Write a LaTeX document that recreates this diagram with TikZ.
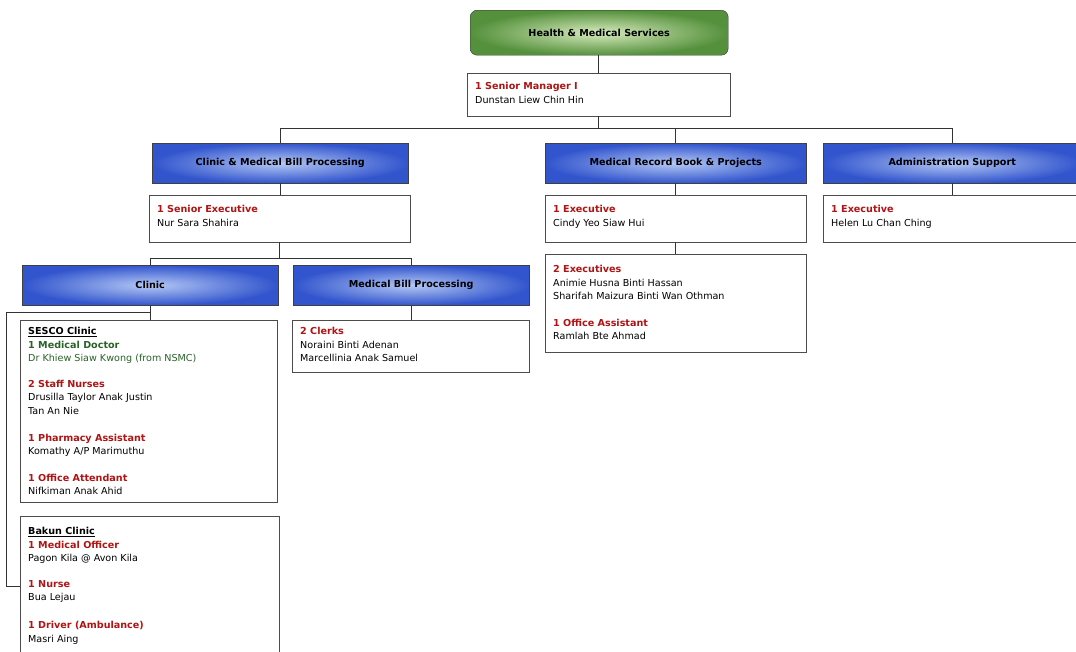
\documentclass[tikz,border=0pt]{standalone}
\usepackage{fontspec}
\setmainfont{DejaVu Sans}
\usetikzlibrary{calc}

\definecolor{postred}{RGB}{176,20,20}
\definecolor{docgreen}{RGB}{40,100,40}
\definecolor{headblue}{RGB}{50,85,205}
\definecolor{headlight}{RGB}{180,200,245}
\definecolor{topgreen}{RGB}{85,145,60}
\definecolor{toplight}{RGB}{215,235,190}

\newcommand{\post}[1]{\textcolor{postred}{\textbf{#1}}}

\tikzset{
  topbox/.style={draw=black!80, rounded corners=7pt, inner color=toplight, outer color=topgreen,
    minimum width=258, minimum height=45, anchor=north west, font=\bfseries\fontsize{9.6}{11}\selectfont},
  headbox/.style={draw=black!75, inner color=headlight, outer color=headblue,
    minimum height=40, anchor=north west, font=\bfseries\fontsize{9.6}{11}\selectfont},
  staffbox/.style={draw=black!70, fill=white, anchor=north west},
  stafftext/.style={anchor=north west, align=left, inner sep=0pt, font=\fontsize{9.6}{13.6}\selectfont},
  link/.style={draw=black!80, line width=0.8pt}
}

\begin{document}
\begin{tikzpicture}[x=1pt, y=-1pt]
        \useasboundingbox (0,0) rectangle (1076,651);
        \fill[white] (0,0) rectangle (1076,651);

        % top
        \node[topbox] (hms) at (470,10) {Health \& Medical Services};
        \node[staffbox, minimum width=263, minimum height=43] (mgr) at (467,73) {};
        \node[stafftext] at ($(mgr.north west)+(8,9)$) {\post{1 Senior Manager I}\\Dunstan Liew Chin Hin};

        % sections
        \node[headbox, minimum width=256] (cmb) at (152,143) {Clinic \& Medical Bill Processing};
        \node[headbox, minimum width=261] (mrb) at (545,143) {Medical Record Book \& Projects};
        \node[headbox, minimum width=258] (adm) at (823,143) {Administration Support};

        \node[staffbox, minimum width=261, minimum height=47] (sexe) at (149,195) {};
        \node[stafftext] at ($(sexe.north west)+(8,10)$) {\post{1 Senior Executive}\\Nur Sara Shahira};

        \node[staffbox, minimum width=261, minimum height=47] (mexe) at (545,195) {};
        \node[stafftext] at ($(mexe.north west)+(8,10)$) {\post{1 Executive}\\Cindy Yeo Siaw Hui};

        \node[staffbox, minimum width=261, minimum height=98] (mstaff) at (545,254) {};
        \node[stafftext] at ($(mstaff.north west)+(8,11)$) {\post{2 Executives}\\Animie Husna Binti Hassan\\
          Sharifah Maizura Binti Wan Othman\\[13pt]\post{1 Office Assistant}\\Ramlah Bte Ahmad};

        \node[staffbox, minimum width=258, minimum height=47] (aexe) at (823,195) {};
        \node[stafftext] at ($(aexe.north west)+(8,10)$) {\post{1 Executive}\\Helen Lu Chan Ching};

        % clinic side
        \node[headbox, minimum width=256] (clinic) at (22,265) {Clinic};
        \node[headbox, minimum width=236] (mbp) at (293,265) {Medical Bill Processing};

        \node[staffbox, minimum width=237, minimum height=52] (clerks) at (292,320) {};
        \node[stafftext] at ($(clerks.north west)+(8,7)$) {\post{2 Clerks}\\Noraini Binti Adenan\\Marcellinia Anak Samuel};

        \node[staffbox, minimum width=257, minimum height=182] (sesco) at (20,320) {};
        \node[stafftext] at ($(sesco.north west)+(8,7)$) {\underline{\textbf{SESCO Clinic}}\\
          \textcolor{docgreen}{\textbf{1 Medical Doctor}}\\\textcolor{docgreen}{Dr Khiew Siaw Kwong (from NSMC)}\\[12pt]
          \post{2 Staff Nurses}\\Drusilla Taylor Anak Justin\\Tan An Nie\\[13pt]
          \post{1 Pharmacy Assistant}\\Komathy A/P Marimuthu\\[13pt]
          \post{1 Office Attendant}\\Nifkiman Anak Ahid};

        \node[staffbox, minimum width=259, minimum height=150] (bakun) at (20,516) {};
        \node[stafftext] at ($(bakun.north west)+(8,11)$) {\underline{\textbf{Bakun Clinic}}\\
          \post{1 Medical Officer}\\Pagon Kila @ Avon Kila\\[12pt]
          \post{1 Nurse}\\Bua Lejau\\[14pt]
          \post{1 Driver (Ambulance)}\\Masri Aing};

        % links
        \draw[link] (mgr.north |- hms.south) -- (mgr.north);
        \coordinate (bus1) at ($(mgr.south)+(0,12)$);
        \draw[link] (mgr.south) -- (bus1);
        \draw[link] (bus1) -| (cmb.north);
        \draw[link] (bus1) -| (mrb.north);
        \draw[link] (bus1) -| (adm.north);

        \draw[link] (cmb.south) -- (cmb.south |- sexe.north);
        \draw[link] (mrb.south) -- (mrb.south |- mexe.north);
        \draw[link] (adm.south) -- (adm.south |- aexe.north);
        \draw[link] (mexe.south) -- (mexe.south |- mstaff.north);

        \coordinate (bus2) at ($(sexe.south)+(0,16)$);
        \draw[link] (sexe.south) -- (bus2);
        \draw[link] (bus2) -| (clinic.north);
        \draw[link] (bus2) -| (mbp.north);
        \draw[link] (mbp.south) -- (mbp.south |- clerks.north);

        \draw[link] (clinic.south) -- (clinic.south |- sesco.north);
        \coordinate (bus3) at ($(clinic.south)+(0,7)$);
        \coordinate (bakunin) at ($(bakun.west)+(-14,-5)$);
        \draw[link] (bus3) -| (bakunin) -- (bakunin -| bakun.west);
\end{tikzpicture}
\end{document}
